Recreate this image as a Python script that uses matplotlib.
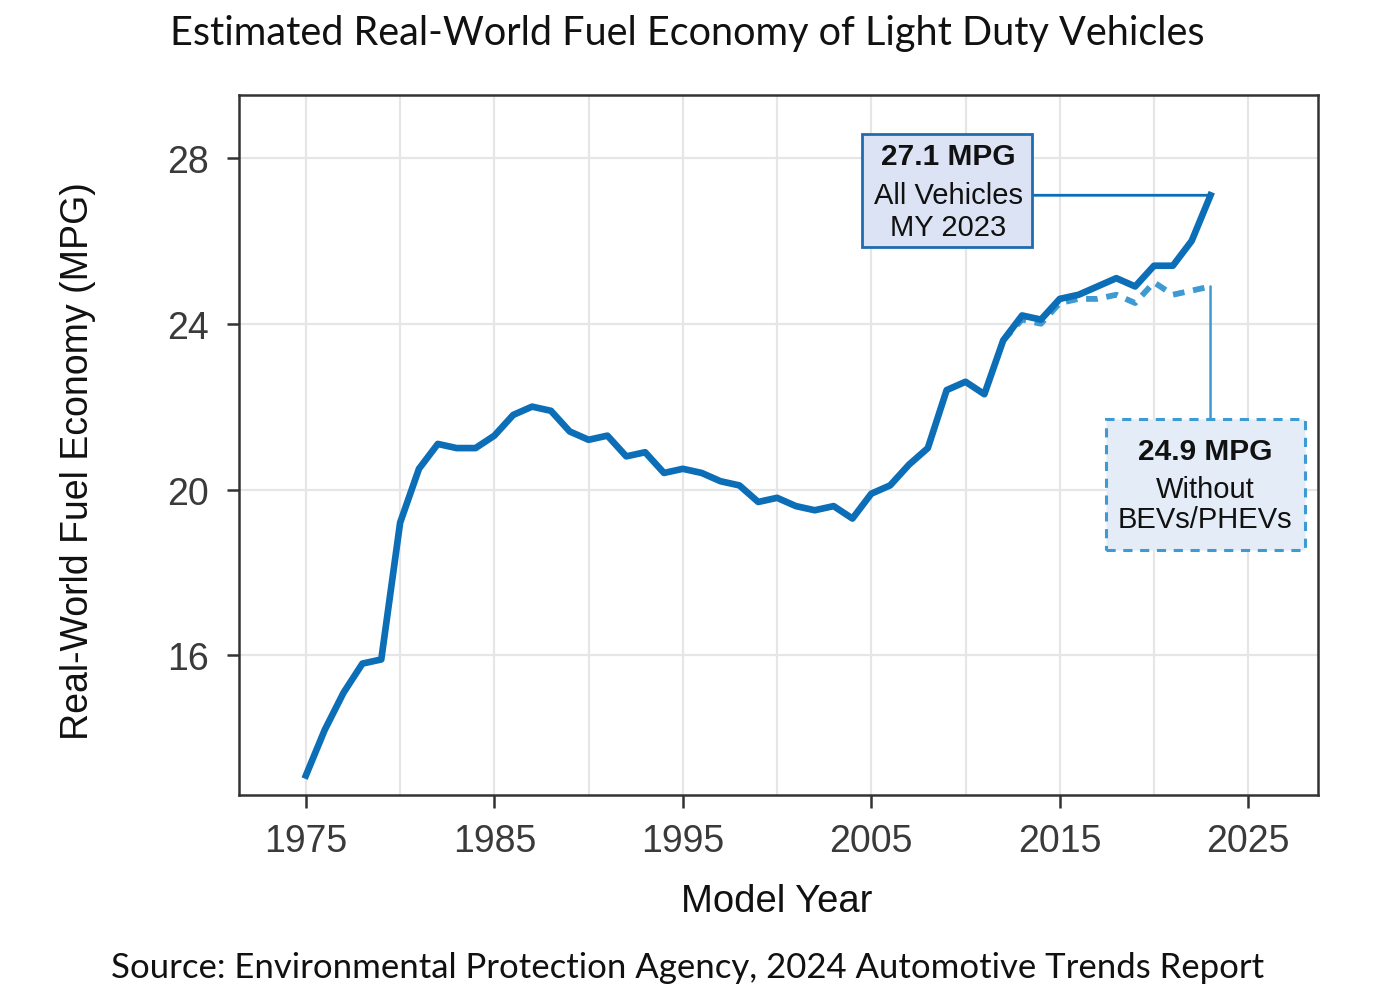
import matplotlib
matplotlib.use("Agg")
import matplotlib.pyplot as plt
from matplotlib.patches import Rectangle

# Data
years = list(range(1975, 2024))
mpg_all = [13.1, 14.2, 15.1, 15.8, 15.9, 19.2, 20.5, 21.1, 21.0, 21.0,
           21.3, 21.8, 22.0, 21.9, 21.4, 21.2, 21.3, 20.8, 20.9, 20.4,
           20.5, 20.4, 20.2, 20.1, 19.7, 19.8, 19.6, 19.5, 19.6, 19.3,
           19.9, 20.1, 20.6, 21.0, 22.4, 22.6, 22.3, 23.6, 24.2, 24.1,
           24.6, 24.7, 24.9, 25.1, 24.9, 25.4, 25.4, 26.0, 27.1]

years_nobev = list(range(2012, 2024))
mpg_nobev = [23.6, 24.1, 24.0, 24.5, 24.6, 24.6, 24.7, 24.5, 25.0, 24.7, 24.8, 24.9]

xticks = [1975, 1985, 1995, 2005, 2015, 2025]
yticks = [16, 20, 24, 28]

title = "Estimated Real-World Fuel Economy of Light Duty Vehicles"
source = "Source: Environmental Protection Agency, 2024 Automotive Trends Report"

blue = "#0B6EB6"
light_blue = "#3D9AD3"

plt.rcParams['font.family'] = ['Liberation Sans', 'DejaVu Sans']

fig = plt.figure(figsize=(14, 10.04), dpi=100)
ax = fig.add_axes([0.1707, 0.2072, 0.7707, 0.6972])

ax.plot(years_nobev, mpg_nobev, color=light_blue, lw=4.2, ls=(0, (2.0, 1.5)), zorder=3)
ax.plot(years, mpg_all, color=blue, lw=4.8, zorder=4)

ax.set_xlim(1971.45, 2028.7)
ax.set_ylim(12.63, 29.52)
ax.set_xticks(xticks)
ax.set_yticks(yticks)
ax.set_xticks(range(1980, 2030, 10), minor=True)
ax.tick_params(axis='x', which='minor', length=0)
ax.grid(True, which='both', color='#E6E6E6', lw=1.6, zorder=0)
ax.set_axisbelow(True)

for s in ax.spines.values():
    s.set_color('#333333')
    s.set_linewidth(1.8)
ax.tick_params(which='major', length=9, width=1.8, color='#333333',
               labelsize=27, labelcolor='#3a3a3a')
ax.tick_params(axis='x', pad=11)
ax.tick_params(axis='y', pad=13)

fig.text(0.555, 0.102, "Model Year", ha='center', va='center', fontsize=27.5, color='#111111')
fig.text(0.056, 0.541, "Real-World Fuel Economy (MPG)", ha='center', va='center',
         rotation=90, fontsize=27, color='#111111')

fig.text(0.491, 0.967, title, ha='center', va='center', fontsize=28.5,
         family=['Lato', 'DejaVu Sans'], color='#111111')
fig.text(0.491, 0.036, source, ha='center', va='center', fontsize=25,
         family=['Lato', 'DejaVu Sans'], color='#111111')

# annotation: all vehicles
ax.annotate("", xy=(years[-1], mpg_all[-1]), xytext=(2013.5, mpg_all[-1]),
            arrowprops=dict(arrowstyle='-', color=blue, lw=2.0, shrinkA=0, shrinkB=0),
            zorder=2)
ax.add_patch(Rectangle((2004.52, 25.86), 9.02, 2.72, fc='#DCE3F4', ec='#1F6DAE', lw=2.0, zorder=5))
ax.text(2009.08, 28.05, "27.1 MPG", ha='center', va='center', fontsize=21.5,
        fontweight='bold', color='#111111', zorder=6)
ax.text(2009.08, 27.11, "All Vehicles", ha='center', va='center', fontsize=21,
        color='#111111', zorder=6)
ax.text(2009.08, 26.34, "MY 2023", ha='center', va='center', fontsize=21,
        color='#111111', zorder=6)

# annotation: without BEVs/PHEVs
ax.annotate("", xy=(years_nobev[-1], mpg_nobev[-1]), xytext=(years_nobev[-1], 21.69),
            arrowprops=dict(arrowstyle='-', color=light_blue, lw=1.8, shrinkA=0, shrinkB=0),
            zorder=2)
ax.add_patch(Rectangle((2017.46, 18.55), 10.57, 3.14, fc='#E4ECF7', ec=light_blue, lw=2.2,
                       ls=(0, (3, 2.5)), zorder=5))
ax.text(2022.72, 20.94, "24.9 MPG", ha='center', va='center', fontsize=21.5,
        fontweight='bold', color='#111111', zorder=6)
ax.text(2022.72, 20.02, "Without", ha='center', va='center', fontsize=21,
        color='#111111', zorder=6)
ax.text(2022.72, 19.28, "BEVs/PHEVs", ha='center', va='center', fontsize=21,
        color='#111111', zorder=6)

fig.savefig("out.png", dpi=100)
